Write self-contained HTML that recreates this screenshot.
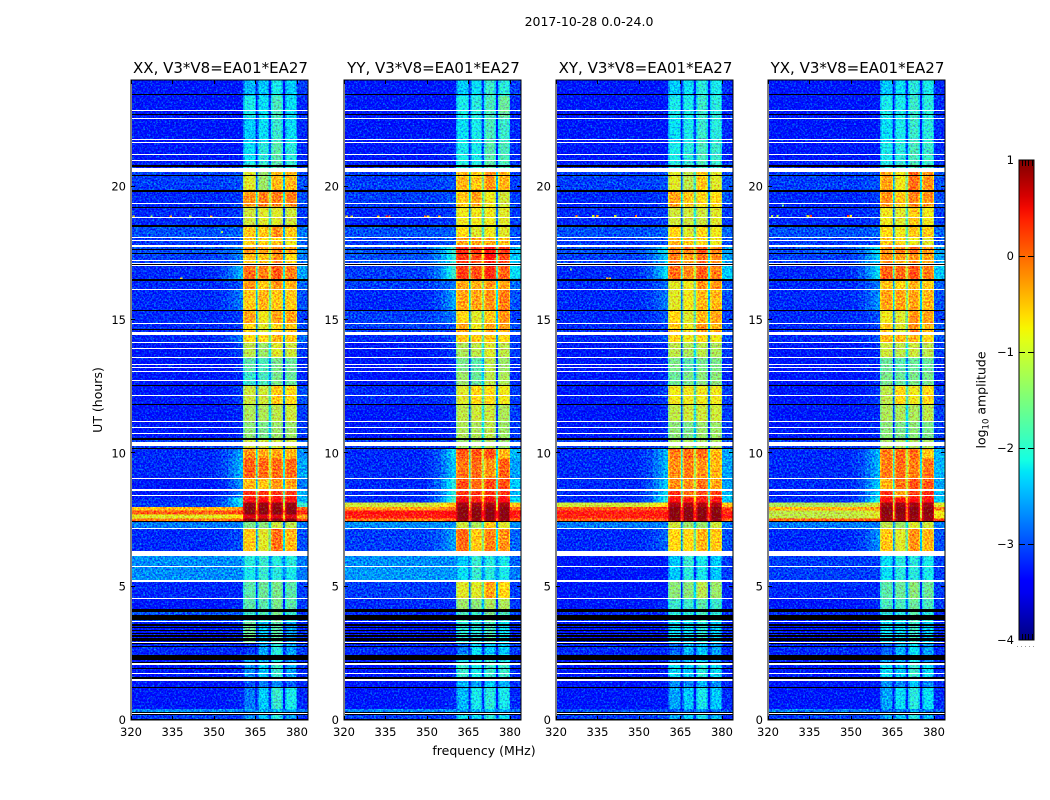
<!DOCTYPE html>
<html lang="en">
<head>
<meta charset="utf-8">
<title>2017-10-28 0.0-24.0</title>
<style>
html,body{margin:0;padding:0;background:#fff;}
svg{display:block;}
text{font-family:"DejaVu Sans","Liberation Sans",sans-serif;fill:#000;}
</style>
</head>
<body>
<svg id="chart" width="1050" height="800" viewBox="0 0 1050 800" xmlns="http://www.w3.org/2000/svg">
  <defs>
    <filter id="speckle" x="0" y="0" width="100%" height="100%" color-interpolation-filters="sRGB">
      <feTurbulence type="fractalNoise" baseFrequency="0.55" numOctaves="2" seed="7" result="n"/>
      <feColorMatrix in="n" type="matrix" values="0 0 0 0 0.5  1.4 0 0 0 -0.27  0 0.9 0 0 0.1  0 0 0 0 1" result="m"/>
      <feComposite in="SourceGraphic" in2="m" operator="arithmetic" k1="0" k2="1" k3="1" k4="-0.5"/>
    </filter>
    <linearGradient id="jet-gradient" x1="0" y1="1" x2="0" y2="0"></linearGradient>
  </defs>
  <text x="589" y="26" font-size="12.5" text-anchor="middle">2017-10-28 0.0-24.0</text>
  <text x="484" y="755" font-size="12.5" text-anchor="middle">frequency (MHz)</text>
  <text x="102" y="400" font-size="12.5" text-anchor="middle" transform="rotate(-90 102 400)">UT (hours)</text>
  <text x="985.5" y="400" font-size="12.5" text-anchor="middle" transform="rotate(-90 985.5 400)">log<tspan font-size="8.5" dy="3">10</tspan><tspan dy="-3"> amplitude</tspan></text>
</svg>
<script>
// ---- axis data ----
const panelTitles = ['XX, V3*V8=EA01*EA27','YY, V3*V8=EA01*EA27','XY, V3*V8=EA01*EA27','YX, V3*V8=EA01*EA27'];
const freqTicks = [320,335,350,365,380];
const hourTicks = [0,5,10,15,20];
const colorTicks = [1,0,-1,-2,-3,-4];

// ---- time bins (UT hours, top to bottom) ----
const hourEdges = [24,23.4,22.6,21.7,20.9,20.55,19.85,19.25,18.55,18.1,17.8,17.45,17.1,16.5,16.15,15.36,14.87,14.5,14.16,13.6,13.07,12.53,11.84,11.2,10.5,10.2,9.8,9.06,8.6,8.35,8.15,7.98,7.85,7.7,7.55,7.43,7.2,6.34,6.15,5.75,5.2,4.56,4.15,3.7,2.9,2.45,2.1,1.5,1.2,0.41,0.33,0.2,0];

// ---- frequency bands (MHz): background, transition steps, four sub-bands, upper edge ----
const backgroundBand = [320,350];
const transitionEdges = [350,352.5,355,357,358.8,360.5];
const transitionWeights = [0.1,0.25,0.5,0.75,1];
const subBands = [[360.5,365.2],[365.8,369.9],[370.6,374.9],[375.7,380]];
const upperBand = [380,384];

// ---- log10 amplitude per time bin: [background, transition, band1, band2, band3, band4, upper] ----
const xxValues = [
[-3.2,-3.2,-2.4,-2.3,-2.1,-2.3,-3.0],[-3.2,-3.2,-2.1,-2.2,-1.8,-2.2,-3.1],[-3.2,-3.2,-2.3,-2.2,-1.9,-2.2,-3.1],[-3.2,-3.2,-2.2,-2.0,-1.7,-2.0,-3.1],
[-3.1,-3.1,-2.0,-1.9,-1.7,-1.9,-3.0],[-3.0,-2.9,-0.9,-1.3,-0.5,-0.5,-2.9],[-3.1,-3.0,-0.3,-0.2,-0.2,-0.2,-2.9],[-3.1,-3.0,-1.0,-0.9,-0.9,-1.0,-3.0],
[-2.9,-2.8,-0.6,-0.6,-0.3,-0.6,-2.7],[-3.0,-2.9,-0.6,-0.7,-0.6,-0.8,-2.8],[-2.9,-2.6,-0.3,-0.4,-0.2,-0.4,-2.6],[-3.0,-2.7,-0.6,-0.6,-0.3,-0.7,-2.7],
[-3.1,-2.4,-0.1,-0.2,0.0,-0.2,-2.5],[-3.1,-2.9,-0.3,-0.6,-0.3,-0.5,-2.8],[-3.1,-2.7,-0.6,-0.5,-0.6,-0.6,-2.9],[-3.1,-3.0,-0.4,-0.8,-0.4,-0.4,-3.0],
[-3.1,-3.0,-0.7,-0.9,-0.7,-0.6,-2.9],[-3.1,-2.7,-0.7,-0.7,-0.5,-0.6,-2.8],[-3.2,-3.0,-1.1,-1.3,-0.9,-1.0,-3.0],[-3.2,-3.1,-1.7,-1.8,-1.5,-1.6,-3.1],
[-3.2,-3.1,-1.9,-1.8,-1.5,-1.6,-3.1],[-3.2,-3.0,-1.0,-1.0,-0.6,-0.7,-2.9],[-3.2,-3.1,-1.2,-1.2,-1.1,-1.0,-3.0],[-3.2,-3.1,-1.4,-1.5,-1.3,-1.3,-3.0],
[-3.0,-2.9,-1.0,-1.0,-1.0,-1.0,-2.8],[-3.1,-2.5,-0.3,-0.4,-0.4,-0.5,-2.6],[-3.1,-2.4,-0.05,-0.1,-0.1,-0.1,-2.5],[-3.2,-2.6,-0.5,-0.6,-0.3,-0.4,-2.7],
[-3.2,-2.7,0.2,0.2,0.2,0.2,-2.4],[-3.1,-2.0,0.45,0.45,0.45,0.45,-2.4],[-3.0,-2.2,0.9,0.9,0.9,0.9,-1.9],[-0.55,-0.3,0.95,0.95,0.95,0.95,-0.1],
[-0.05,0.1,0.95,0.95,0.95,0.95,0.2],[-0.9,-0.7,0.6,0.6,0.6,0.6,-0.4],[-0.2,-0.1,0.95,0.95,0.95,0.95,0.1],[-2.7,-2.7,-1.5,-1.4,-1.0,-1.1,-2.7],
[-3.1,-2.9,-0.6,-0.9,-0.1,-0.5,-2.9],[-3.0,-3.0,-1.5,-1.5,-1.5,-1.5,-3.0],[-2.6,-2.6,-2.0,-1.9,-2.0,-2.0,-2.7],[-2.6,-2.6,-2.1,-1.9,-2.0,-2.1,-2.7],
[-3.1,-3.1,-1.7,-1.6,-1.5,-1.7,-3.0],[-3.2,-3.1,-1.7,-1.7,-1.5,-1.7,-3.0],[-2.9,-2.9,-1.9,-1.8,-1.5,-1.9,-3.0],[-3.2,-3.1,-1.6,-2.3,-1.7,-2.5,-3.1],
[-3.1,-3.1,-3.0,-2.5,-2.0,-2.5,-3.0],[-3.2,-3.2,-2.5,-2.4,-2.1,-2.5,-3.1],[-3.2,-3.1,-2.6,-2.3,-1.9,-2.5,-3.1],[-3.2,-3.2,-2.9,-2.7,-2.6,-2.8,-3.1],
[-3.2,-3.1,-2.7,-2.3,-1.9,-2.1,-3.1],[-2.6,-2.6,-2.5,-2.4,-2.3,-2.4,-2.7],[-2.6,-2.6,-2.5,-2.4,-2.3,-2.4,-2.7],[-3.0,-3.0,-2.6,-2.3,-2.0,-2.5,-3.1]
];
const yyValues = [
[-3.2,-3.2,-2.3,-2.2,-1.9,-2.0,-3.0],[-3.2,-3.2,-2.1,-2.0,-1.8,-1.6,-3.1],[-3.2,-3.2,-2.2,-2.1,-1.8,-1.9,-3.1],[-3.2,-3.1,-2.1,-2.1,-1.7,-1.8,-3.1],
[-3.1,-3.1,-2.0,-2.0,-1.7,-1.8,-3.0],[-3.0,-2.9,-0.5,-0.6,-0.3,-0.5,-3.0],[-3.0,-2.9,-0.6,-0.4,-0.8,-1.0,-3.0],[-3.1,-3.0,-0.8,-0.8,-0.8,-0.9,-3.0],
[-2.9,-2.8,-0.7,-0.9,-0.8,-0.9,-2.9],[-3.0,-2.9,-0.4,-0.4,-0.4,-0.6,-2.9],[-2.9,-1.9,0.3,0.2,0.4,0.2,-2.3],[-2.9,-2.0,0.2,0.1,0.4,0.1,-2.3],
[-3.0,-1.9,0.15,0.05,0.25,-0.05,-2.2],[-3.0,-2.7,-0.4,-0.5,-0.3,-0.4,-2.8],[-3.1,-2.5,-0.4,-0.4,-0.3,-0.2,-2.9],[-3.0,-2.7,-0.7,-0.9,-0.6,-0.3,-3.0],
[-3.0,-2.9,-0.4,-0.8,-0.4,-0.4,-2.9],[-3.1,-2.9,-0.6,-0.6,-0.6,-0.7,-3.0],[-3.2,-3.0,-1.2,-1.1,-0.9,-1.1,-3.0],[-3.2,-3.1,-1.5,-1.7,-1.1,-1.3,-3.1],
[-3.2,-3.1,-1.3,-1.6,-1.1,-1.2,-3.1],[-3.1,-3.0,-0.9,-0.7,-0.7,-0.8,-3.0],[-3.2,-3.1,-1.1,-1.0,-1.0,-1.2,-3.0],[-3.2,-3.1,-1.2,-1.2,-1.1,-1.3,-3.0],
[-3.0,-3.0,-1.3,-1.3,-1.2,-1.3,-2.9],[-3.1,-2.2,0.0,0.0,0.05,-0.5,-2.4],[-3.1,-2.3,-0.15,-0.1,-0.3,-0.05,-2.5],[-3.1,-2.0,0.05,-0.1,0.1,0.05,-2.3],
[-3.1,-2.0,0.2,0.2,0.2,0.2,-2.4],[-3.1,-1.8,0.5,0.3,0.5,0.45,-2.2],[-1.0,-0.5,0.85,0.85,0.85,0.85,-0.6],[-0.4,-0.2,0.95,0.95,0.95,0.95,-0.1],
[0.4,0.5,0.95,0.95,0.95,0.95,0.4],[0.3,0.4,0.95,0.95,0.95,0.95,0.3],[-0.2,-0.1,0.9,0.9,0.9,0.9,0.0],[-2.6,-2.6,-1.0,-1.2,-0.6,-0.9,-2.6],
[-3.0,-2.5,-0.1,-0.6,-0.2,-0.3,-2.8],[-3.0,-3.0,-1.5,-1.5,-1.5,-1.5,-3.0],[-2.6,-2.6,-2.3,-1.9,-2.0,-2.1,-2.8],[-2.55,-2.55,-2.2,-1.9,-2.0,-2.1,-2.7],
[-3.0,-3.0,-0.9,-0.9,-0.4,-0.7,-3.0],[-3.1,-3.1,-1.3,-1.4,-1.2,-1.2,-3.0],[-3.1,-3.1,-1.8,-1.9,-1.5,-1.8,-3.0],[-3.2,-3.2,-2.0,-2.0,-1.8,-2.2,-3.1],
[-3.1,-3.1,-2.7,-2.2,-2.3,-2.3,-3.0],[-3.2,-3.2,-2.1,-2.1,-1.9,-2.1,-3.1],[-3.2,-3.1,-1.9,-2.1,-1.9,-1.9,-3.1],[-3.2,-3.2,-2.4,-2.5,-2.3,-2.4,-3.1],
[-3.2,-3.1,-2.4,-2.1,-2.0,-2.1,-3.1],[-2.6,-2.6,-2.5,-2.4,-2.3,-2.4,-2.7],[-2.6,-2.6,-2.5,-2.4,-2.3,-2.4,-2.7],[-3.0,-3.0,-2.2,-2.2,-2.0,-2.2,-3.1]
];
const xyValues = [
[-3.2,-3.2,-2.3,-2.2,-2.0,-2.1,-3.1],[-3.2,-3.2,-2.1,-2.1,-1.9,-2.0,-3.1],[-3.2,-3.2,-2.2,-2.1,-1.9,-2.0,-3.1],[-3.2,-3.2,-2.1,-2.0,-1.8,-1.9,-3.1],
[-3.1,-3.1,-2.0,-1.9,-1.8,-1.9,-3.0],[-3.0,-2.9,-0.9,-1.1,-0.6,-0.9,-2.9],[-3.1,-3.0,-0.4,-0.6,-0.7,-0.7,-2.9],[-3.1,-3.0,-1.0,-1.0,-1.0,-0.9,-3.0],
[-2.9,-2.8,-0.7,-0.9,-0.7,-0.8,-2.8],[-3.0,-2.9,-0.5,-0.6,-0.7,-0.8,-2.9],[-2.9,-2.2,-0.2,-0.2,0.0,-0.2,-2.5],[-3.0,-2.3,-0.2,-0.4,-0.1,-0.3,-2.5],
[-3.1,-2.2,-0.1,-0.25,0.0,-0.2,-2.3],[-3.1,-2.8,-0.9,-0.8,-0.3,-0.3,-2.9],[-3.1,-2.7,-0.9,-0.8,-0.5,-0.5,-2.9],[-3.1,-2.9,-0.7,-0.9,-0.5,-0.4,-3.0],
[-3.1,-3.0,-0.6,-0.8,-0.3,-0.5,-2.9],[-3.1,-2.9,-0.7,-0.8,-0.7,-0.8,-2.9],[-3.2,-3.1,-1.1,-1.2,-1.1,-1.2,-3.0],[-3.2,-3.1,-1.5,-1.7,-1.5,-1.5,-3.1],
[-3.2,-3.1,-1.6,-1.5,-1.4,-1.4,-3.1],[-3.2,-3.0,-0.8,-0.8,-0.8,-0.8,-3.0],[-3.2,-3.1,-1.1,-1.0,-1.0,-1.0,-3.0],[-3.2,-3.1,-1.4,-1.5,-1.3,-1.3,-3.0],
[-3.0,-3.0,-1.2,-1.2,-1.2,-1.2,-2.9],[-3.1,-2.4,-0.2,-0.1,-0.1,-0.5,-2.5],[-3.1,-2.4,-0.3,-0.2,-0.3,-0.5,-2.5],[-3.1,-2.3,-0.3,-0.3,-0.1,-0.4,-2.5],
[-3.1,-2.2,0.2,-0.1,0.1,0.1,-2.4],[-3.1,-2.0,0.45,0.4,0.4,0.4,-2.3],[-1.0,-0.6,0.8,0.8,0.8,0.8,-0.6],[0.0,0.1,0.95,0.95,0.95,0.95,0.1],
[0.3,0.35,0.95,0.95,0.95,0.95,0.3],[0.3,0.35,0.95,0.95,0.95,0.95,0.3],[-0.1,0.0,0.9,0.9,0.9,0.9,0.0],[-2.7,-2.7,-1.0,-1.3,-1.3,-1.0,-2.7],
[-3.1,-2.8,-0.7,-0.7,-0.5,-0.6,-2.9],[-3.0,-3.0,-1.5,-1.5,-1.5,-1.5,-3.0],[-3.2,-3.2,-2.3,-1.9,-2.1,-2.3,-3.0],[-3.2,-3.2,-2.3,-2.0,-2.1,-2.3,-3.0],
[-3.2,-3.2,-1.4,-1.4,-1.1,-1.3,-3.1],[-3.2,-3.1,-1.9,-1.9,-1.7,-1.9,-3.1],[-3.1,-3.1,-2.0,-2.0,-1.8,-2.0,-3.1],[-3.2,-3.2,-2.2,-2.2,-2.0,-2.3,-3.1],
[-3.1,-3.1,-2.8,-2.4,-2.3,-2.5,-3.1],[-3.2,-3.2,-2.5,-2.4,-2.2,-2.5,-3.1],[-3.2,-3.2,-2.2,-2.3,-2.0,-2.2,-3.1],[-3.2,-3.2,-2.6,-2.6,-2.4,-2.6,-3.1],
[-3.2,-3.2,-2.5,-2.3,-2.1,-2.3,-3.1],[-2.9,-2.9,-2.8,-2.7,-2.6,-2.7,-2.9],[-2.9,-2.9,-2.8,-2.7,-2.6,-2.7,-2.9],[-3.0,-3.0,-2.5,-2.3,-2.1,-2.4,-3.1]
];
const yxValues = [
[-3.2,-3.2,-2.3,-2.2,-2.0,-2.1,-3.1],[-3.2,-3.2,-2.1,-2.1,-1.9,-2.0,-3.1],[-3.2,-3.2,-2.2,-2.1,-1.9,-2.0,-3.1],[-3.2,-3.2,-2.1,-2.0,-1.8,-1.9,-3.1],
[-3.1,-3.1,-2.0,-1.9,-1.8,-1.9,-3.0],[-3.0,-2.9,-0.4,-0.8,-0.1,-0.3,-2.9],[-3.1,-3.0,-0.3,-0.6,-0.2,-0.3,-2.9],[-3.1,-3.0,-0.8,-0.9,-0.6,-0.8,-3.0],
[-2.9,-2.8,-0.7,-0.8,-0.6,-0.6,-2.8],[-3.0,-2.9,-0.6,-0.7,-0.8,-0.9,-2.9],[-2.9,-2.2,-0.3,-0.2,-0.1,-0.3,-2.5],[-3.0,-2.3,-0.3,-0.4,-0.3,-0.4,-2.5],
[-3.1,-2.2,-0.05,-0.1,0.05,-0.2,-2.3],[-3.1,-2.7,-0.6,-0.7,-0.5,-0.6,-2.8],[-3.1,-2.6,-0.4,-0.4,-0.4,-0.5,-2.9],[-3.1,-2.9,-0.8,-0.9,-0.3,-0.4,-3.0],
[-3.1,-3.0,-0.6,-0.9,-0.3,-0.5,-2.9],[-3.1,-2.9,-0.5,-0.5,-0.5,-0.7,-2.9],[-3.2,-3.1,-1.0,-1.1,-1.0,-1.1,-3.0],[-3.2,-3.1,-1.6,-1.7,-1.6,-1.6,-3.1],
[-3.2,-3.1,-1.5,-1.6,-1.5,-1.5,-3.1],[-3.2,-3.0,-1.1,-0.7,-0.8,-0.7,-3.0],[-3.2,-3.1,-1.2,-1.2,-1.2,-1.1,-3.0],[-3.2,-3.1,-1.4,-1.5,-1.4,-1.5,-3.0],
[-3.0,-3.0,-1.2,-1.2,-1.2,-1.2,-2.9],[-3.1,-2.4,-0.2,-0.1,-0.1,-0.6,-2.4],[-3.1,-2.4,-0.2,-0.1,-0.2,-0.15,-2.4],[-3.1,-2.3,-0.5,-0.1,0.05,0.0,-2.5],
[-3.1,-2.3,0.2,-0.4,0.15,0.3,-2.4],[-3.1,-2.0,0.45,0.45,0.45,0.45,-2.3],[-1.2,-0.9,0.85,0.85,0.85,0.85,-0.9],[-0.5,-0.3,0.95,0.95,0.95,0.95,-0.2],
[-1.1,-0.9,0.95,0.95,0.95,0.95,-0.8],[-1.1,-0.9,0.9,0.9,0.9,0.9,-0.8],[-0.1,0.0,0.9,0.9,0.9,0.9,0.1],[-2.7,-2.7,-1.1,-1.3,-0.9,-1.0,-2.7],
[-3.1,-2.6,-0.6,-0.9,-0.3,-0.5,-2.9],[-3.0,-3.0,-1.5,-1.5,-1.5,-1.5,-3.0],[-3.0,-3.0,-2.2,-2.0,-2.0,-2.1,-3.0],[-3.0,-3.0,-2.2,-2.0,-2.0,-2.1,-3.0],
[-3.1,-3.1,-1.7,-1.6,-1.4,-1.6,-3.0],[-3.2,-3.1,-1.8,-1.8,-1.6,-1.8,-3.0],[-3.1,-3.1,-2.0,-2.0,-1.7,-2.0,-3.1],[-3.2,-3.2,-2.2,-2.2,-1.9,-2.3,-3.1],
[-3.1,-3.1,-2.8,-2.4,-2.2,-2.5,-3.1],[-3.2,-3.2,-2.5,-2.4,-2.1,-2.5,-3.1],[-3.2,-3.2,-2.2,-2.3,-1.9,-2.2,-3.1],[-3.2,-3.2,-2.6,-2.6,-2.3,-2.6,-3.1],
[-3.2,-3.2,-2.5,-2.2,-2.0,-2.2,-3.1],[-2.7,-2.7,-2.7,-2.6,-2.5,-2.6,-2.8],[-2.7,-2.7,-2.7,-2.6,-2.5,-2.6,-2.8],[-3.0,-3.0,-2.5,-2.3,-2.0,-2.4,-3.1]
];
const panelValues = [xxValues, yyValues, xyValues, yxValues];

// ---- flagged time ranges [from hour, to hour] ----
const whiteFlags = [[22.87,22.83],[22.58,22.54],[21.78,21.74],[21.68,21.64],[21.23,21.19],[20.99,20.95],[20.70,20.55],[19.38,19.34],[18.85,18.81],[18.12,18.08],[17.99,17.95],[17.82,17.75],[17.26,17.22],[17.14,17.10],[17.07,17.03],[16.17,16.13],[14.89,14.85],[14.56,14.44],[14.18,14.14],[13.96,13.92],[13.62,13.58],[13.36,13.32],[13.24,13.20],[13.09,13.05],[12.76,12.72],[12.19,12.15],[11.22,11.18],[10.99,10.95],[10.77,10.73],[10.44,10.27],[9.08,9.04],[8.66,8.59],[8.45,8.41],[7.20,7.15],[6.34,6.15],[5.77,5.73],[5.24,5.19],[4.58,4.54],[3.70,3.66],[2.93,2.89],[2.12,2.08],[1.77,1.73],[1.52,1.48],[0.27,0.23]];
const blackFlags = [[23.48,23.44],[22.71,22.67],[20.82,20.75],[20.43,20.39],[19.86,19.81],[19.24,19.19],[18.58,18.54],[18.51,18.47],[17.65,17.61],[17.50,17.46],[17.10,17.07],[16.52,16.48],[15.38,15.34],[14.67,14.62],[12.55,12.51],[11.86,11.82],[10.57,10.50],[10.21,10.17],[7.45,7.41],[4.15,4.04],[3.95,3.76],[3.60,3.54],[3.48,3.44],[3.37,3.33],[3.27,3.23],[3.17,3.13],[3.06,2.97],[2.89,2.85],[2.77,2.73],[2.44,2.25],[2.18,2.14],[1.96,1.92],[1.62,1.58],[1.57,1.53],[1.23,1.19],[0.31,0.27],[0.22,0.19],[0.02,0]];

// ---- isolated bright channels [freq MHz, hour, log10 amplitude], one list per panel ----
const xxHotspots = [[320.6,18.88,-1.0],[327,18.88,-1.3],[334,18.88,-0.4],[341,18.88,-1.2],[348.6,18.88,-0.5],[337.7,16.57,-0.7],[352.5,18.3,-1.2]];
const yyHotspots = [[320.6,18.89,-0.8],[322.4,18.89,-1.0],[332,18.89,-0.4],[335,18.89,0.4],[336,18.89,-0.2],[349,18.89,-0.2],[350,18.89,-0.6],[354,18.89,-0.6]];
const xyHotspots = [[327,18.9,-0.4],[333,18.9,-1.0],[334.5,18.9,-0.5],[341,18.9,-1.0],[348.5,18.9,-0.1],[338,16.57,-0.6],[339,16.57,-0.8],[325,16.9,-1.4]];
const yxHotspots = [[321,18.9,-1.2],[323,18.9,-1.2],[334,18.9,-1.0],[335,18.9,0.2],[348.6,18.9,0.1],[349.6,18.9,-0.8],[325,19.3,-1.6]];
const panelHotspots = [xxHotspots, yyHotspots, xyHotspots, yxHotspots];

// ---- layout ----
const panelLefts = [131,344,556,768];
const plotTop = 80, plotBottom = 720, plotWidth = 177;
const cbarLeft = 1019, cbarRight = 1034, cbarTop = 160, cbarBottom = 640;
const NS = 'http://www.w3.org/2000/svg';
const svg = document.getElementById('chart');

function mk(tag, attrs, parent){
  const el = document.createElementNS(NS, tag);
  for(const k in attrs){ el.setAttribute(k, attrs[k]); }
  parent.appendChild(el);
  return el;
}
function xScale(left, f){ return left + (f-320)/64*plotWidth; }
function yScale(h){ return plotBottom - h/24*(plotBottom-plotTop); }
function cScale(v){ return cbarBottom - (v+4)/5*(cbarBottom-cbarTop); }
function seg(t, pts){
  for(let i=0;i<pts.length-1;i++){
    if(t<=pts[i+1][0]){
      const a=pts[i], b=pts[i+1];
      return a[1]+(b[1]-a[1])*(t-a[0])/(b[0]-a[0]);
    }
  }
  return pts[pts.length-1][1];
}
function jet(v){
  const t=Math.max(0,Math.min(1,(v+4)/5));
  const r=seg(t,[[0,0],[.35,0],[.66,1],[.89,1],[1,.5]]);
  const g=seg(t,[[0,0],[.125,0],[.375,1],[.64,1],[.91,0],[1,0]]);
  const b=seg(t,[[0,.5],[.11,1],[.34,1],[.65,0],[1,0]]);
  return 'rgb('+Math.round(r*255)+','+Math.round(g*255)+','+Math.round(b*255)+')';
}
function cell(group, left, f0, f1, h0, h1, v){
  const x0=Math.max(left+1,xScale(left,f0)), x1=xScale(left,f1);
  const y0=yScale(h0), y1=yScale(h1);
  const el=mk('rect',{x:x0.toFixed(2),y:y0.toFixed(2),width:(x1-x0+0.4).toFixed(2),height:(y1-y0+0.4).toFixed(2),fill:jet(v),'shape-rendering':'crispEdges'},group);
  
  
}
function flag(group, left, range, color, name){
  const y0=Math.round(yScale(range[0]));
  const y1=Math.max(y0+1,Math.round(yScale(range[1])));
  const el=mk('rect',{x:left+1,y:y0,width:plotWidth-1,height:y1-y0,fill:color,'shape-rendering':'crispEdges'},group);
  
  
}
function tick(group, x1, y1, x2, y2){
  const el=mk('line',{x1:x1,y1:y1,x2:x2,y2:y2,stroke:'#000','stroke-width':1,'shape-rendering':'crispEdges'},group);
  
  
}
function label(group, x, y, txt, size, anchor, name){
  const el=mk('text',{x:x,y:y,'font-size':size,'text-anchor':anchor},group);
  el.textContent=txt;
  
  
}

panelLefts.forEach(function(left,p){
  const panel=mk('g',{},svg);
  
  

  const heat=mk('g',{filter:'url(#speckle)'},panel);
  
  

  panelValues[p].forEach(function(row,i){
    const h0=hourEdges[i], h1=hourEdges[i+1];
    const bg=row[0], tr=row[1], up=row[6];
    cell(heat,left,backgroundBand[0],backgroundBand[1],h0,h1,bg);
    transitionWeights.forEach(function(w,k){
      cell(heat,left,transitionEdges[k],transitionEdges[k+1],h0,h1,bg+(tr-bg)*w);
    });
    const gapDrop=[1.8,1.0,1.9];
    subBands.forEach(function(b,k){
      const v=row[2+k];
      cell(heat,left,b[0],b[1],h0,h1,v);
      cell(heat,left,b[0],b[0]+0.4,h0,h1,v-0.35);
      cell(heat,left,b[1]-0.4,b[1],h0,h1,v-0.35);
      if(k<3){
        const gv=Math.max(bg,(v+row[3+k])/2-gapDrop[k]);
        cell(heat,left,b[1],subBands[k+1][0],h0,h1,gv);
      }
    });
    cell(heat,left,upperBand[0],upperBand[1],h0,h1,up);
  });
  panelHotspots[p].forEach(function(s){
    cell(heat,left,s[0],s[0]+0.7,s[1]+0.03,s[1]-0.03,s[2]);
  });

  const flags=mk('g',{},panel);
  
  
  whiteFlags.forEach(function(r){ flag(flags,left,r,'#fff','flag-white-row'); });
  blackFlags.forEach(function(r){ flag(flags,left,r,'#000','flag-black-row'); });

  const frame=mk('rect',{x:left,y:plotTop,width:plotWidth,height:plotBottom-plotTop,fill:'none',stroke:'#000','stroke-width':1},panel);
  
  

  freqTicks.forEach(function(f){
    const x=Math.round(xScale(left,f))+0.5;
    tick(panel,x,plotBottom,x,plotBottom-4);
    tick(panel,x,plotTop,x,plotTop+4);
    label(panel,xScale(left,f),736,String(f),11.5,'middle','x-tick-label');
  });
  hourTicks.forEach(function(h){
    const y=Math.round(yScale(h))-0.5;
    tick(panel,left,y,left+4,y);
    tick(panel,left+plotWidth,y,left+plotWidth-4,y);
    label(panel,left-5,yScale(h)+4,String(h),11.5,'end','y-tick-label');
  });
  label(panel,left+plotWidth/2+1,73,panelTitles[p],15,'middle','panel-title');
});

// ---- colour bar ----
const grad=document.getElementById('jet-gradient');
for(let i=0;i<=40;i++){
  mk('stop',{offset:(i/40*100)+'%','stop-color':jet(-4+i/40*5)},grad);
}
const cbar=mk('g',{},svg);


const cbarRect=mk('rect',{x:cbarLeft,y:cbarTop,width:cbarRight-cbarLeft,height:cbarBottom-cbarTop,fill:'url(#jet-gradient)',stroke:'#000','stroke-width':1},cbar);


colorTicks.forEach(function(v){
  const y=cScale(v);
  label(cbar,cbarLeft-5,y+4,String(v).replace('-','\u2212'),11.5,'end','colorbar-tick-label');
  if(v!==1 && v!==-4){
    const yy=Math.round(y)+0.5;
    tick(cbar,cbarLeft,yy,cbarLeft+6,yy);
    tick(cbar,cbarRight,yy,cbarRight-6,yy);
  }
});
[0.18,0.4,0.62,0.84].forEach(function(frac){
  const x=Math.round(cbarLeft+frac*(cbarRight-cbarLeft))+0.5;
  tick(cbar,x,cbarTop,x,cbarTop+6);
  tick(cbar,x,cbarBottom,x,cbarBottom-6);
});
const dots=mk('line',{x1:1017,y1:646.5,x2:1036,y2:646.5,stroke:'#999','stroke-width':1,'stroke-dasharray':'1 3'},cbar);


</script>
</body>
</html>
